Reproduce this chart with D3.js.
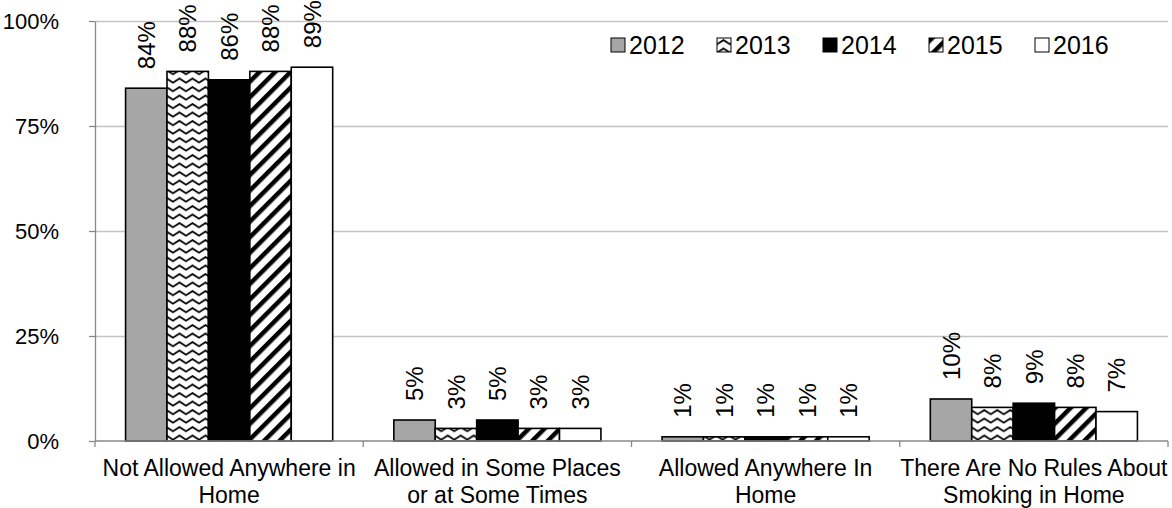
<!DOCTYPE html>
<html>
<head>
<meta charset="utf-8">
<script src="https://cdn.jsdelivr.net/npm/d3@7"></script>
<style>
  html, body { margin: 0; padding: 0; background: #fff; }
  svg { display: block; font-family: "Liberation Sans", Arial, sans-serif; }
</style>
</head>
<body>
<svg id="chart" width="1172" height="508"></svg>
<script>
// Home smoking rules, share of homes by year
const categories = [
  "Not Allowed Anywhere in Home",
  "Allowed in Some Places or at Some Times",
  "Allowed Anywhere In Home",
  "There Are No Rules About Smoking in Home"
];
const categoryLines = [
  ["Not Allowed Anywhere in", "Home"],
  ["Allowed in Some Places", "or at Some Times"],
  ["Allowed Anywhere In", "Home"],
  ["There Are No Rules About", "Smoking in Home"]
];
const years = ["2012", "2013", "2014", "2015", "2016"];
const values2012 = [84, 5, 1, 10];
const values2013 = [88, 3, 1, 8];
const values2014 = [86, 5, 1, 9];
const values2015 = [88, 3, 1, 8];
const values2016 = [89, 3, 1, 7];
const yTicks = [0, 25, 50, 75, 100];

const seriesValues = [values2012, values2013, values2014, values2015, values2016];
const seriesFill = ["#a6a6a6", "url(#wave)", "#000000", "url(#diag)", "#ffffff"];

const svg = d3.select("#chart");
const plot = { left: 95, right: 1168, top: 21, bottom: 441 };
const FONT = 22;

// fill patterns
const defs = svg.append("defs");
const wave = defs.append("pattern")
  .attr("id", "wave").attr("patternUnits", "userSpaceOnUse")
  .attr("width", 13).attr("height", 8.5);
wave.append("rect").attr("width", 13).attr("height", 8.5).attr("fill", "#fff");
wave.append("path")
  .attr("d", "M-1,6.2 L0,6.2 L6.5,2 L13,6.2 L14,6.2")
  .attr("fill", "none").attr("stroke", "#000").attr("stroke-width", 1.8);

const diag = defs.append("pattern")
  .attr("id", "diag").attr("patternUnits", "userSpaceOnUse")
  .attr("width", 11).attr("height", 11)
  .attr("patternTransform", "rotate(45)");
diag.append("rect").attr("width", 11).attr("height", 11).attr("fill", "#fff");
diag.append("rect").attr("width", 4.5).attr("height", 11).attr("fill", "#000");

// scales
const x0 = d3.scaleBand().domain(categories).range([plot.left, plot.right]).paddingInner(0).paddingOuter(0);
const x1 = d3.scaleBand().domain(years).range([0, x0.bandwidth()]).paddingInner(0).paddingOuter(0.738);
const y = d3.scaleLinear().domain([0, 100]).range([plot.bottom, plot.top]);

// gridlines
svg.append("g")
  .attr("transform", `translate(${plot.left},0)`)
  .call(d3.axisLeft(y).tickValues(yTicks.filter(d => d > 0)).tickSize(-(plot.right - plot.left)).tickFormat(""))
  .call(g => g.select(".domain").remove())
  .call(g => g.selectAll("line").attr("stroke", "#c4c4c4").attr("stroke-width", 1.3));

// y axis
svg.append("g")
  .attr("transform", `translate(${plot.left},0)`)
  .call(d3.axisLeft(y).tickValues(yTicks).tickSize(6).tickPadding(30).tickSizeOuter(0).tickFormat(d => d + "%"))
  .call(g => g.select(".domain").attr("stroke", "#888").attr("stroke-width", 1.3))
  .call(g => g.selectAll("line").attr("stroke", "#888").attr("stroke-width", 1.3))
  .call(g => g.selectAll("text").attr("font-size", FONT).attr("font-family", "Liberation Sans, Arial, sans-serif").attr("fill", "#000"));

// bars
const groups = svg.append("g").selectAll("g")
  .data(categories)
  .join("g")
  .attr("transform", d => `translate(${x0(d)},0)`);

const cells = (c, ci) => years.map((yr, si) => ({ yr, si, v: seriesValues[si][ci] }));

groups.selectAll("rect")
  .data(cells)
  .join("rect")
  .attr("x", d => x1(d.yr))
  .attr("y", d => y(d.v))
  .attr("width", x1.bandwidth())
  .attr("height", d => y(0) - y(d.v))
  .attr("fill", d => seriesFill[d.si])
  .attr("stroke", "#000")
  .attr("stroke-width", 1.6);

// value labels, rotated
groups.selectAll("text.val")
  .data(cells)
  .join("text")
  .attr("class", "val")
  .attr("transform", d => `translate(${x1(d.yr) + x1.bandwidth() / 2},${y(d.v) - 19}) rotate(-90)`)
  .attr("dy", "0.36em")
  .attr("font-size", 24)
  .attr("fill", "#000")
  .text(d => d.v + "%");

// x axis line and category boundary ticks
svg.append("line")
  .attr("x1", plot.left).attr("x2", plot.right)
  .attr("y1", y(0)).attr("y2", y(0))
  .attr("stroke", "#888").attr("stroke-width", 1.3);
const bounds = categories.map(c => x0(c)).concat([x0(categories[categories.length - 1]) + x0.bandwidth()]);
svg.append("g").selectAll("line")
  .data(bounds)
  .join("line")
  .attr("x1", d => d).attr("x2", d => d)
  .attr("y1", y(0)).attr("y2", y(0) + 6)
  .attr("stroke", "#888").attr("stroke-width", 1.3);

// category labels
const catLabels = svg.append("g").selectAll("text")
  .data(categories)
  .join("text")
  .attr("x", d => x0(d) + x0.bandwidth() / 2)
  .attr("y", 476)
  .attr("text-anchor", "middle")
  .attr("font-size", 23)
  .attr("fill", "#000");
catLabels.selectAll("tspan")
  .data((d, i) => categoryLines[i])
  .join("tspan")
  .attr("x", function () { return d3.select(this.parentNode).attr("x"); })
  .attr("dy", (d, i) => i === 0 ? 0 : 27)
  .text(d => d);

// legend
const legend = svg.append("g").attr("transform", "translate(611,38)");
const item = legend.selectAll("g")
  .data(years)
  .join("g")
  .attr("transform", (d, i) => `translate(${i * 106},0)`);
item.append("rect")
  .attr("width", 14).attr("height", 14)
  .attr("fill", (d, i) => seriesFill[i])
  .attr("stroke", "#000").attr("stroke-width", 1);
item.append("text")
  .attr("x", 18).attr("y", 7).attr("dy", "0.36em")
  .attr("font-size", 25).attr("fill", "#000")
  .text(d => d);
</script>
</body>
</html>
